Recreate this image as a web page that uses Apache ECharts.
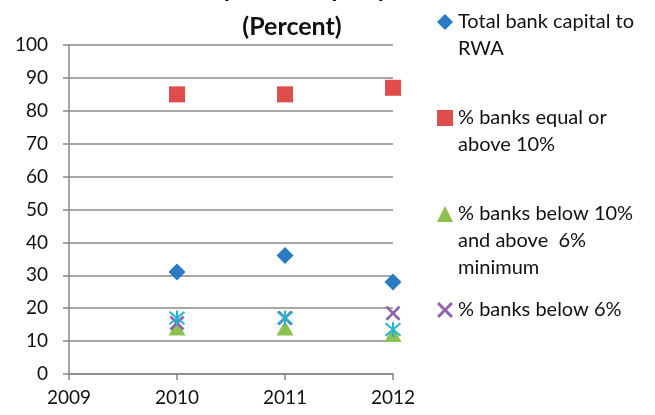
<!DOCTYPE html>
<html>
<head>
<meta charset="utf-8">
<script src="https://cdn.jsdelivr.net/npm/echarts@6/dist/echarts.min.js"></script>
<style>
html,body{margin:0;padding:0;background:#fff;}
#chart{width:655px;height:415px;}
</style>
</head>
<body>
<div id="chart"></div>
<script>
// ---- data ----
var titleLines = ['Capital Adequacy', '(Percent)'];
var years = [2010, 2011, 2012];
var totalCapitalToRWA = [31, 36, 28];
var banksAbove10 = [85, 85, 87];
var banksBetween6and10 = [14, 14, 12];
var banksBelow6 = [15.5, 17, 18.5];
var unlabeledSeries = [17, 17, 13.5];
var seriesNames = [
  'Total bank capital to RWA',
  '% banks equal or above 10%',
  '% banks below 10% and above 6% minimum',
  '% banks below 6%',
  'unlabeled'
];
var legendLines = [
  ['Total bank capital to', 'RWA'],
  ['% banks equal or', 'above 10%'],
  ['% banks below 10%', 'and above  6%', 'minimum'],
  ['% banks below 6%']
];
var xMin = 2009, xMax = 2012, xInterval = 1;
var yMin = 0, yMax = 100, yInterval = 10;

function pairs(vals) {
  return years.map(function (y, i) { return [y, vals[i]]; });
}

var FONT = 'Lato';
var LH = 27;
var colors = ['#2A7BC2', '#E04B4B', '#8CC152', '#8E62AC', '#22B5CF'];
var xPath = 'path://M0,1.3L1.3,0L5,3.7L8.7,0L10,1.3L6.3,5L10,8.7L8.7,10L5,6.3L1.3,10L0,8.7L3.7,5Z';
var starPath = 'path://M0,0L10,10M10,0L0,10M5,-1L5,11';

function legendFor(idx, firstLineCenter) {
  var lines = legendLines[idx];
  var pad = [];
  for (var k = 0; k < lines.length - 1; k++) pad.push('');
  var text = pad.concat(lines).join('\n');
  var total = pad.length + lines.length;
  return {
    data: [seriesNames[idx]],
    left: 437,
    top: firstLineCenter - total * LH / 2,
    padding: 0,
    itemWidth: 16,
    itemHeight: 16,
    itemGap: 0,
    formatter: function () { return text; },
    textStyle: { fontFamily: FONT, fontSize: 20, color: '#111', lineHeight: LH, padding: [0, 0, 0, 0] }
  };
}

var chart = echarts.init(document.getElementById('chart'), null, { renderer: 'canvas' });
chart.setOption({
  animation: false,
  backgroundColor: '#fff',
  title: {
    text: titleLines.join('\n'),
    left: 292,
    top: -30,
    padding: 0,
    textAlign: 'center',
    textStyle: { fontFamily: FONT, fontSize: 25, fontWeight: 'bold', color: '#111', lineHeight: 38 }
  },
  legend: [
    legendFor(0, 22),
    legendFor(1, 118),
    legendFor(2, 214),
    legendFor(3, 310)
  ],
  grid: { left: 69, right: 262, top: 45, bottom: 41, containLabel: false },
  xAxis: {
    type: 'value',
    min: xMin, max: xMax, interval: xInterval,
    axisLine: { show: true, onZero: false, lineStyle: { color: '#868686', width: 1.5 } },
    axisTick: { show: true, inside: false, length: 6, lineStyle: { color: '#868686', width: 1.5 } },
    splitLine: { show: false },
    axisLabel: { fontFamily: FONT, fontSize: 19, color: '#111', margin: 14, formatter: function (v) { return String(v); } }
  },
  yAxis: {
    type: 'value',
    min: yMin, max: yMax, interval: yInterval,
    axisLine: { show: true, lineStyle: { color: '#868686', width: 1.5 } },
    axisTick: { show: true, inside: false, length: 6, lineStyle: { color: '#868686', width: 1.5 } },
    splitLine: { show: true, lineStyle: { color: '#8a8a8a', width: 1.5 } },
    axisLabel: { fontFamily: FONT, fontSize: 19, color: '#111', margin: 21 }
  },
  series: [
    { name: seriesNames[0], type: 'scatter', data: pairs(totalCapitalToRWA), symbol: 'diamond', symbolSize: 17, clip: false,
      itemStyle: { color: colors[0], opacity: 1 } },
    { name: seriesNames[1], type: 'scatter', data: pairs(banksAbove10), symbol: 'rect', symbolSize: 16, clip: false,
      itemStyle: { color: colors[1], opacity: 1 } },
    { name: seriesNames[2], type: 'scatter', data: pairs(banksBetween6and10), symbol: 'triangle', symbolSize: [17, 15], clip: false,
      itemStyle: { color: colors[2], opacity: 1 } },
    { name: seriesNames[3], type: 'scatter', data: pairs(banksBelow6), symbol: xPath, symbolSize: 15, clip: false,
      itemStyle: { color: colors[3], opacity: 1 } },
    { name: seriesNames[4], type: 'scatter', data: pairs(unlabeledSeries), symbol: starPath, symbolSize: 15, clip: false,
      itemStyle: { color: 'rgba(0,0,0,0)', borderColor: colors[4], borderWidth: 2, opacity: 1 } }
  ]
});
</script>
</body>
</html>
